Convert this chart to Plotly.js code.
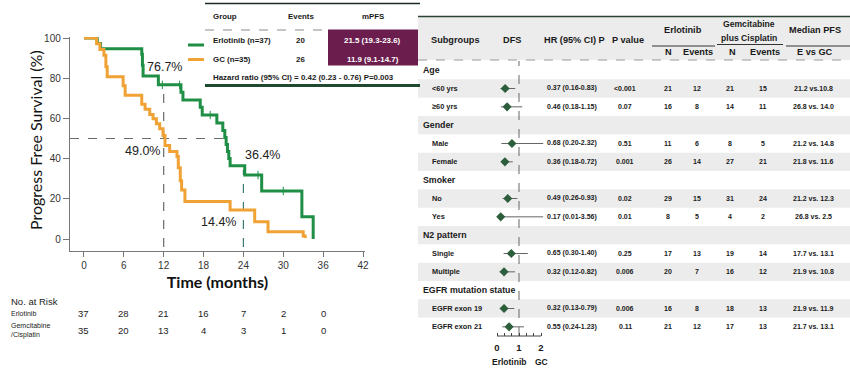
<!DOCTYPE html>
<html><head><meta charset="utf-8">
<script src="https://cdn.plot.ly/plotly-3.0.1.min.js"></script>
<style>html,body{margin:0;padding:0;background:#fff}#chart{width:850px;height:371px}</style>
</head><body><div id="chart"></div><script>
// ---------- Kaplan-Meier data ----------
const erlTimes = [0, 2.0, 2.5, 8.7, 8.8, 8.9, 11.2, 14.6, 14.9, 17.5, 17.8, 20.0, 20.9, 21.2, 21.4, 21.6, 21.8, 22.0, 24.2, 26.75, 32.8, 34.5];
const erlSurv  = [100, 97.3, 94.6, 91.9, 86.5, 81.1, 76.7, 73.0, 69.2, 65.5, 61.7, 57.7, 54.0, 50.5, 47.0, 43.5, 40.0, 36.4, 31.8, 23.9, 11.1, 0];
const gcTimes  = [0, 1.9, 2.4, 3.0, 3.3, 3.5, 5.9, 6.2, 8.7, 9.2, 9.9, 10.4, 10.9, 11.4, 11.9, 12.2, 12.9, 14.0, 14.2, 14.5, 14.7, 15.2, 22.0, 25.7, 27.7, 33.0, 33.3];
const gcSurv   = [100, 97.1, 94.3, 91.4, 85.7, 80.7, 76.3, 71.5, 67.0, 64.5, 62.0, 59.8, 57.3, 54.8, 51.5, 46.5, 43.5, 41.0, 35.5, 29.0, 24.4, 18.6, 14.4, 8.6, 3.6, 1.5, 0.5];
const erlCensorTimes = [11.8, 14.4, 19.0, 26.2, 30.0];
const landmarkTimes = [12, 24];
const erlLandmark = [76.7, 36.4];
const gcLandmark = [49.0, 14.4];
const medianLevel = 50;
const xTicks = [0, 6, 12, 18, 24, 30, 36, 42];
const yTicks = [0, 20, 40, 60, 80, 100];
const riskTimes = [0, 6, 12, 18, 24, 30, 36];
const erlAtRisk = [37, 28, 21, 16, 7, 2, 0];
const gcAtRisk = [35, 20, 13, 4, 3, 1, 0];

// ---------- KM legend table ----------
const groupNames = ['Erlotinib (n=37)', 'GC (n=35)'];
const groupEvents = [20, 26];
const groupMPFS = ['21.5 (19.3-23.6)', '11.9 (9.1-14.7)'];
const hazardText = 'Hazard ratio (95% CI) = 0.42 (0.23 - 0.76) P=0.003';

// ---------- Forest / subgroup table ----------
const subgroupLabels = ['Age', '<60 yrs', '≥60 yrs', 'Gender', 'Male', 'Female', 'Smoker', 'No', 'Yes', 'N2 pattern', 'Single', 'Multiple', 'EGFR mutation statue', 'EGFR exon 19', 'EGFR exon 21'];
const isCategory = [true, false, false, true, false, false, true, false, false, true, false, false, true, false, false];
const hrValues = [null, 0.37, 0.46, null, 0.68, 0.36, null, 0.49, 0.17, null, 0.65, 0.32, null, 0.32, 0.55];
const ciLow    = [null, 0.16, 0.18, null, 0.20, 0.18, null, 0.26, 0.01, null, 0.30, 0.12, null, 0.13, 0.24];
const ciHigh   = [null, 0.83, 1.15, null, 2.32, 0.72, null, 0.93, 3.56, null, 1.40, 0.82, null, 0.79, 1.23];
const pValues  = [null, '<0.001', '0.07', null, '0.51', '0.001', null, '0.02', '0.01', null, '0.25', '0.006', null, '0.006', '0.11'];
const erlN     = [null, 21, 16, null, 11, 26, null, 29, 8, null, 17, 20, null, 16, 21];
const erlEvents= [null, 12, 8, null, 6, 14, null, 15, 5, null, 13, 7, null, 8, 12];
const gcN      = [null, 21, 14, null, 8, 27, null, 31, 4, null, 19, 16, null, 18, 17];
const gcEvents = [null, 15, 11, null, 5, 21, null, 24, 2, null, 14, 12, null, 13, 13];
const medianPFS= [null, '21.2 vs.10.8', '26.8 vs. 14.0', null, '21.2 vs. 14.8', '21.8 vs. 11.6', null, '21.2 vs. 12.3', '26.8 vs. 2.5', null, '17.7 vs. 13.1', '21.9 vs. 10.8', null, '21.9 vs. 11.9', '21.7 vs. 13.1'];
const forestTicks = [0, 1/3, 2/3, 1, 4/3, 5/3, 2];
const forestTickText = ['0', '', '', '1', '', '', '2'];
const forestEnds = ['Erlotinib', 'GC'];

// ---------- helpers ----------
const W = 850, H = 371;
const px = x => x / W;
const py = y => 1 - y / H;
const esc = s => String(s).replace(/&/g, '&amp;').replace(/</g, '&lt;').replace(/>/g, '&gt;');
const stepAt = (ts, ss, t) => { let v = ss[0]; for (let i = 0; i < ts.length; i++) if (ts[i] <= t) v = ss[i]; return v; };
const GREEN = '#1f8f46', ORANGE = '#f0a235', PURPLE = '#6b1e4e', DKGREEN = '#1f4a30', DIAM = '#2c5e3c';
const SANS = "'Liberation Sans', Arial, sans-serif";
const NARROW = "'Liberation Sans', Arial, sans-serif";
const TITLEF = "Lato, 'Open Sans', sans-serif";

const traces = [];
traces.push({x: erlTimes, y: erlSurv, mode: 'lines', line: {shape: 'hv', color: GREEN, width: 3}, xaxis: 'x', yaxis: 'y', hoverinfo: 'skip'});
traces.push({x: gcTimes, y: gcSurv, mode: 'lines', line: {shape: 'hv', color: ORANGE, width: 3}, xaxis: 'x', yaxis: 'y', hoverinfo: 'skip'});
traces.push({x: erlCensorTimes, y: erlCensorTimes.map(t => stepAt(erlTimes, erlSurv, t)), mode: 'markers',
  marker: {symbol: 'line-ns-open', size: 6, color: GREEN, line: {width: 1, color: GREEN}}, xaxis: 'x', yaxis: 'y', hoverinfo: 'skip'});

// forest CI lines
const ciX = [], ciY = [];
hrValues.forEach((v, i) => { if (v !== null) { ciX.push(ciLow[i], ciHigh[i], null); ciY.push(i, i, null); } });
traces.push({x: ciX, y: ciY, mode: 'lines', line: {color: '#666', width: 1}, xaxis: 'x2', yaxis: 'y2', hoverinfo: 'skip'});
const rowsIdx = hrValues.map((v, i) => i).filter(i => hrValues[i] !== null);
traces.push({x: rowsIdx.map(i => hrValues[i]), y: rowsIdx, mode: 'markers',
  marker: {symbol: 'diamond', size: 7, color: DIAM}, xaxis: 'x2', yaxis: 'y2', hoverinfo: 'skip'});

const shapes = [];
const annotations = [];
const ann = (text, x, y, o = {}) => annotations.push(Object.assign({text, x: px(x), y: py(y), xref: 'paper', yref: 'paper', showarrow: false,
  xanchor: 'center', yanchor: 'middle', font: {family: NARROW, size: 9, color: '#1a1a1a'}}, o));
const hline = (x0, x1, y, color, width, dash) => shapes.push({type: 'line', xref: 'paper', yref: 'paper', x0: px(x0), x1: px(x1), y0: py(y), y1: py(y), line: {color, width, dash: dash || 'solid'}});

// KM reference lines
shapes.push({type: 'line', xref: 'x', yref: 'y', x0: landmarkTimes[0], x1: landmarkTimes[0], y0: -4, y1: erlLandmark[0], line: {color: '#6a6a6a', width: 1.2, dash: 'dash'}, layer: 'below'});
shapes.push({type: 'line', xref: 'x', yref: 'y', x0: landmarkTimes[1], x1: landmarkTimes[1], y0: -4, y1: erlLandmark[1] - 2, line: {color: '#3d7a74', width: 1.2, dash: 'dash'}, layer: 'below'});
shapes.push({type: 'line', xref: 'x', yref: 'y', x0: -2.1, x1: 21.1, y0: medianLevel, y1: medianLevel, line: {color: '#6a6a6a', width: 1.2, dash: 'dash'}, layer: 'below'});

// KM landmark labels
const kmLab = {family: SANS, size: 12.5, color: '#222'};
const kmAnn = (txt, x, y, xa, xs) => annotations.push({text: txt, x, y, xref: 'x', yref: 'y', showarrow: false, xanchor: xa, yanchor: 'middle', xshift: xs, font: kmLab});
kmAnn(erlLandmark[0].toFixed(1) + '%', landmarkTimes[0], erlLandmark[0] + 9, 'center', 1);
kmAnn(gcLandmark[0].toFixed(1) + '%', landmarkTimes[0], gcLandmark[0] - 5.2, 'right', -2);
kmAnn(erlLandmark[1].toFixed(1) + '%', landmarkTimes[1], erlLandmark[1] + 5.4, 'left', 0);
kmAnn(gcLandmark[1].toFixed(1) + '%', landmarkTimes[1], gcLandmark[1] - 5.8, 'right', -5);

// y-axis title
ann('Progress Free Survival (%)', 35, 140, {textangle: -90, font: {family: TITLEF, size: 16, color: '#111'}});

// number at risk
ann('No. at Risk', 9, 301, {xanchor: 'left', font: {family: SANS, size: 9.5, color: '#222'}});
ann('Erlotinib', 9, 313, {xanchor: 'left', font: {family: SANS, size: 7, color: '#222'}});
ann('Gemcitabine<br>/Cisplatin', 9, 330, {xanchor: 'left', align: 'left', font: {family: SANS, size: 7, color: '#222'}});
riskTimes.forEach((t, i) => {
  annotations.push({text: String(erlAtRisk[i]), x: t, y: py(313), xref: 'x', yref: 'paper', showarrow: false, xanchor: 'center', yanchor: 'middle', font: {family: SANS, size: 9.5, color: '#222'}});
  annotations.push({text: String(gcAtRisk[i]), x: t, y: py(330), xref: 'x', yref: 'paper', showarrow: false, xanchor: 'center', yanchor: 'middle', font: {family: SANS, size: 9.5, color: '#222'}});
});

// KM legend table
hline(205, 420, 3.5, '#1b2b20', 1.5);
hline(205, 328, 30, '#8a8a8a', 1, 'dash');
shapes.push({type: 'rect', xref: 'paper', yref: 'paper', x0: px(328), x1: px(418), y0: py(65.5), y1: py(29.5), fillcolor: PURPLE, line: {width: 0}});
hline(205, 420, 85.5, DKGREEN, 3);
hline(188, 204, 45, GREEN, 3);
hline(188, 204, 59.5, ORANGE, 3);
const tb = {family: NARROW, size: 7.9, color: '#1a1a1a'};
ann('<b>Group</b>', 210.5, 16.7, {xanchor: 'left', font: tb});
ann('<b>Events</b>', 300.7, 16.7, {font: tb});
ann('<b>mPFS</b>', 372.7, 16.7, {font: tb});
[40, 60].forEach((yy, i) => {
  ann('<b>' + groupNames[i] + '</b>', 210.5, yy, {xanchor: 'left', font: tb});
  ann('<b>' + groupEvents[i] + '</b>', 300.7, yy, {font: tb});
  ann('<b>' + groupMPFS[i] + '</b>', 372.7, yy, {font: {family: NARROW, size: 7.9, color: '#fff'}});
});
ann('<b>' + hazardText + '</b>', 210.5, 77.3, {xanchor: 'left', font: tb});

// Subgroup table
const T0 = 418, T1 = 850, ROW0 = 61, ROWH = 18.33;
shapes.push({type: 'rect', xref: 'paper', yref: 'paper', x0: px(T0), x1: px(T1), y0: py(60), y1: py(17), fillcolor: '#ececec', line: {width: 0}, layer: 'below'});
subgroupLabels.forEach((lab, i) => {
  if (i % 2 === 1) shapes.push({type: 'rect', xref: 'paper', yref: 'paper', x0: px(T0), x1: px(T1), y0: py(ROW0 + (i + 1) * ROWH), y1: py(ROW0 + i * ROWH), fillcolor: '#ececec', line: {width: 0}, layer: 'below'});
});
hline(T0, T1, 16.5, '#2a4433', 1.5);
hline(T0, T1, 60, '#9a9a9a', 1, 'dash');
hline(652, 715, 46, '#333', 1);
hline(717, 783, 44.5, '#333', 1);
hline(786, 850, 46, '#333', 1);
const hf = {family: NARROW, size: 9.2, color: '#1a1a1a'};
ann('<b>Subgroups</b>', 455, 40, {font: hf});
ann('<b>DFS</b>', 512, 40, {font: hf});
ann('<b>HR (95% CI) P</b>', 574, 40, {font: hf});
ann('<b>P value</b>', 628, 40, {font: hf});
ann('<b>Erlotinib</b>', 683, 30, {font: hf});
ann('<b>N</b>', 668, 52.5, {font: hf});
ann('<b>Events</b>', 698, 52.5, {font: hf});
ann('<b>Gemcitabine</b>', 749, 24, {font: {family: NARROW, size: 8.6, color: '#1a1a1a'}});
ann('<b>plus Cisplatin</b>', 749, 37.5, {font: {family: NARROW, size: 8.6, color: '#1a1a1a'}});
ann('<b>N</b>', 732, 52.5, {font: hf});
ann('<b>Events</b>', 765, 52.5, {font: hf});
ann('<b>Median PFS</b>', 815, 30, {font: hf});
ann('<b>E vs GC</b>', 815, 52.5, {font: hf});

const cf = {family: NARROW, size: 8.8, color: '#1a1a1a'};
const itf = {family: NARROW, size: 7.4, color: '#1a1a1a'};
const df = {family: NARROW, size: 7, color: '#1a1a1a'};
subgroupLabels.forEach((lab, i) => {
  const yc = ROW0 + (i + 0.5) * ROWH;
  if (isCategory[i]) { ann('<b>' + esc(lab) + '</b>', 421, yc, {xanchor: 'left', font: cf}); return; }
  ann('<b>' + esc(lab) + '</b>', 430, yc, {xanchor: 'left', font: itf});
  ann('<b>' + hrValues[i].toFixed(2) + ' (' + ciLow[i].toFixed(2) + '-' + ciHigh[i].toFixed(2) + ')</b>', 572, yc, {font: df});
  ann('<b>' + esc(pValues[i]) + '</b>', 625, yc, {font: df});
  ann('<b>' + erlN[i] + '</b>', 668, yc, {font: df});
  ann('<b>' + erlEvents[i] + '</b>', 697, yc, {font: df});
  ann('<b>' + gcN[i] + '</b>', 730, yc, {font: df});
  ann('<b>' + gcEvents[i] + '</b>', 763, yc, {font: df});
  ann('<b>' + esc(medianPFS[i]) + '</b>', 813, yc, {font: df});
});
// forest reference + axis
shapes.push({type: 'line', xref: 'x2', yref: 'paper', x0: 1, x1: 1, y0: py(336), y1: py(61), line: {color: '#666', width: 1, dash: 'dash'}, layer: 'below'});
shapes.push({type: 'line', xref: 'x2', yref: 'paper', x0: forestTicks[0], x1: forestTicks[forestTicks.length - 1], y0: py(336), y1: py(336), line: {color: '#444', width: 1}});
ann('<b>' + forestEnds[0] + '</b>', 509, 362, {font: {family: NARROW, size: 8.5, color: '#1a1a1a'}});
ann('<b>' + forestEnds[1] + '</b>', 541, 362, {font: {family: NARROW, size: 8.5, color: '#1a1a1a'}});

const layout = {
  width: W, height: H, margin: {l: 0, r: 0, t: 0, b: 0}, showlegend: false,
  paper_bgcolor: '#fff', plot_bgcolor: 'rgba(0,0,0,0)',
  xaxis: {domain: [px(70), px(365)], range: [-2.1, 42.3], tickvals: xTicks, ticks: 'outside', ticklen: 5, tickcolor: '#777',
    showline: true, linecolor: '#777', linewidth: 1.2, showgrid: false, zeroline: false, tickfont: {family: SANS, size: 10, color: '#333'},
    title: {text: '<b>Time (months)</b>', font: {family: TITLEF, size: 16, color: '#111'}, standoff: 6}, anchor: 'y'},
  yaxis: {domain: [py(251), py(37)], range: [-5.97, 100.5], tickvals: yTicks, ticks: 'outside', ticklen: 6, tickcolor: '#777',
    showline: true, linecolor: '#777', linewidth: 1.2, showgrid: false, zeroline: false, tickfont: {family: SANS, size: 10, color: '#333'},
    anchor: 'x'},
  xaxis2: {domain: [px(490.4), px(543.2)], range: [-0.3, 2.1], anchor: 'y2', tickvals: forestTicks, ticktext: forestTickText,
    ticks: 'inside', ticklen: 3, tickcolor: '#444', showline: false, showgrid: false, zeroline: false, ticklabelstandoff: 4,
    tickfont: {family: NARROW, size: 9.5, color: '#1a1a1a', weight: 'bold'}},
  yaxis2: {domain: [py(336), py(61)], range: [14.5, -0.5], anchor: 'x2', visible: false, showgrid: false, zeroline: false},
  shapes, annotations
};
Plotly.newPlot('chart', traces, layout, {staticPlot: true, displayModeBar: false});
</script></body></html>
